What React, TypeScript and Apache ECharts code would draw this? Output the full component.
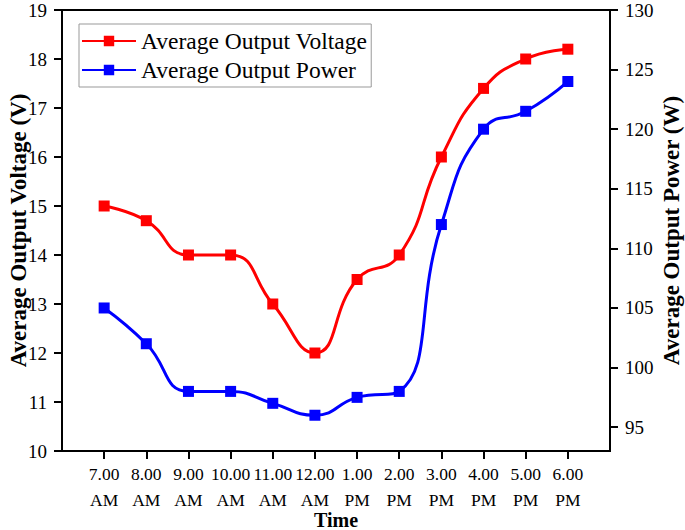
import React, { useEffect, useRef } from "react";
import * as echarts from "echarts";

const timeLabels = [
  "7.00 AM", "8.00 AM", "9.00 AM", "10.00 AM", "11.00 AM", "12.00 AM",
  "1.00 PM", "2.00 PM", "3.00 PM", "4.00 PM", "5.00 PM", "6.00 PM",
];
const voltage = [15, 14.7, 14, 14, 13, 12, 13.5, 14, 16, 17.4, 18, 18.2];
const power = [105, 102, 98, 98, 97, 96, 97.5, 98, 112, 120, 121.5, 124];
const powerTicks = [95, 100, 105, 110, 115, 120, 125, 130];

const FONT = "'Liberation Serif', 'Times New Roman', serif";

export default function App() {
  const ref = useRef<HTMLDivElement>(null);
  useEffect(() => {
    if (!ref.current) return;
    const chart = echarts.init(ref.current, null, { renderer: "svg" });
    const xPositions = timeLabels.map((_, i) => i + 1);
    chart.setOption({
      animation: false,
      backgroundColor: "#fff",
      textStyle: { fontFamily: FONT },
      grid: {
        left: 62, right: 75, top: 10, bottom: 79,
        outerBoundsMode: "none", containLabel: false,
        show: true, borderColor: "#000", borderWidth: 2,
      },
      legend: {
        orient: "vertical",
        left: 79, top: 24,
        borderColor: "#999", borderWidth: 1,
        padding: [4, 4, 4, 2],
        itemGap: 3,
        itemWidth: 54, itemHeight: 13,
        textStyle: { fontFamily: FONT, fontSize: 23.5, color: "#000", lineHeight: 26 },
        data: ["Average Output Voltage", "Average Output Power"],
      },
      xAxis: {
        type: "value", min: 0, max: 13, interval: 1,
        axisLine: { show: true, lineStyle: { color: "#000", width: 2 } },
        axisTick: { show: true, customValues: xPositions, length: 8, lineStyle: { color: "#000", width: 2 } },
        axisLabel: {
          customValues: xPositions,
          formatter: (v: number) => {
            const parts = (timeLabels[Math.round(v) - 1] || "").split(" ");
            return "{a|" + parts[0] + "}\n{b|" + (parts[1] || "") + "}";
          },
          fontFamily: FONT, fontSize: 17.5, margin: 3, color: "#000",
          rich: {
            a: { fontFamily: FONT, fontSize: 17.5, lineHeight: 40, color: "#000" },
            b: { fontFamily: FONT, fontSize: 17.5, lineHeight: 12, color: "#000" },
          },
        },
        splitLine: { show: false },
        name: "Time", nameLocation: "middle", nameGap: 59, nameMoveOverlap: false,
        nameTextStyle: { fontFamily: FONT, fontSize: 20, fontWeight: "bold", color: "#000" },
      },
      yAxis: [
        {
          type: "value", min: 10, max: 19, interval: 1, position: "left",
          axisLine: { show: true, lineStyle: { color: "#000", width: 2 } },
          axisTick: { show: true, length: 8, lineStyle: { color: "#000", width: 2 } },
          axisLabel: { fontFamily: FONT, fontSize: 19, margin: 15, color: "#000" },
          splitLine: { show: false },
          name: "Average Output Voltage (V)", nameLocation: "middle", nameGap: 32, nameRotate: 90,
          nameMoveOverlap: false,
          nameTextStyle: { fontFamily: FONT, fontSize: 23, fontWeight: "bold", color: "#000" },
        },
        {
          type: "value", min: 93, max: 130, position: "right",
          axisLine: { show: true, lineStyle: { color: "#000", width: 2 } },
          axisTick: { show: true, customValues: powerTicks, length: 8, lineStyle: { color: "#000", width: 2 } },
          axisLabel: { customValues: powerTicks, fontFamily: FONT, fontSize: 19, margin: 15, color: "#000" },
          splitLine: { show: false },
          name: "Average Output Power (W)", nameLocation: "middle", nameGap: 50, nameRotate: 90,
          nameMoveOverlap: false,
          nameTextStyle: { fontFamily: FONT, fontSize: 23, fontWeight: "bold", color: "#000" },
        },
      ],
      series: [
        {
          name: "Average Output Voltage", type: "line", yAxisIndex: 0,
          data: voltage.map((v, i) => [i + 1, v]),
          smooth: 0.5, symbol: "rect", symbolSize: 11,
          color: "#ff0000",
          lineStyle: { color: "#ff0000", width: 3 },
          itemStyle: { color: "#ff0000" },
        },
        {
          name: "Average Output Power", type: "line", yAxisIndex: 1,
          data: power.map((v, i) => [i + 1, v]),
          smooth: 0.5, symbol: "rect", symbolSize: 11,
          color: "#0000ff",
          lineStyle: { color: "#0000ff", width: 3 },
          itemStyle: { color: "#0000ff" },
        },
      ],
    });
    return () => chart.dispose();
  }, []);
  return <div ref={ref} style={{ width: 685, height: 530, position: "absolute", left: 0, top: 0 }} />;
}
